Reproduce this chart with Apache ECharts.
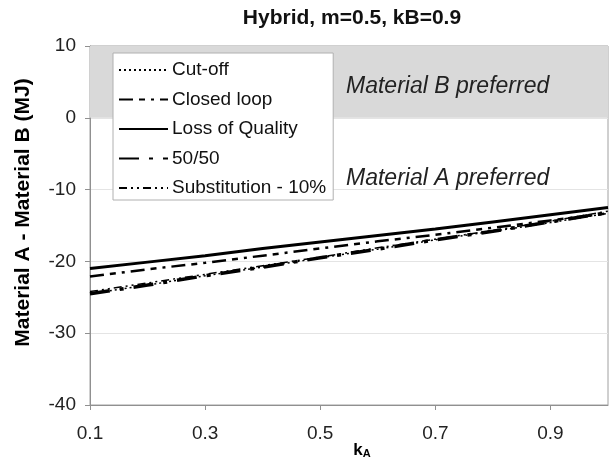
<!DOCTYPE html>
<html>
<head>
<meta charset="utf-8">
<script src="https://cdn.jsdelivr.net/npm/echarts@6/dist/echarts.min.js"></script>
<style>
  html, body { margin: 0; padding: 0; background: #fff; }
  #main { width: 610px; height: 458px; }
</style>
</head>
<body>
<div id="main"></div>
<script>
// kA values along the x axis
const kA = [0.1, 0.2, 0.3, 0.4, 0.5, 0.6, 0.7, 0.8, 0.9, 1.0];

// Material A - Material B (MJ)
const cutOff       = [-24.5, -23.3, -22.0, -20.8, -19.5, -18.3, -17.0, -15.8, -14.6, -13.3];
const closedLoop   = [-22.1, -21.1, -20.2, -19.2, -18.2, -17.2, -16.3, -15.3, -14.3, -13.3];
const lossOfQuality = [-21.0, -20.1, -19.2, -18.2, -17.3, -16.4, -15.5, -14.5, -13.5, -12.5];
const fiftyFifty   = [-24.5, -23.3, -22.0, -20.8, -19.5, -18.3, -17.0, -15.8, -14.5, -13.2];
const substitution = [-24.2, -23.0, -21.8, -20.6, -19.4, -18.1, -16.9, -15.7, -14.4, -13.0];

const yTicks = { min: -40, max: 10, interval: 10 };

const chart = echarts.init(document.getElementById('main'));

const pairs = arr => kA.map((x, i) => [x, arr[i]]);

const font = 'Liberation Sans, Arial, sans-serif';

const option = {
    backgroundColor: '#fff',
    animation: false,
    textStyle: { fontFamily: font },
    title: {
        text: 'Hybrid, m=0.5, kB=0.9',
        left: 352,
        textAlign: 'center',
        top: 8,
        padding: 0,
        textStyle: { fontSize: 21, fontWeight: 'bold', color: '#111', fontFamily: font }
    },
    grid: {
        left: 90, right: 2, top: 46, bottom: 53,
        outerBoundsMode: 'none',
        containLabel: false,
        show: true, borderColor: '#a0a0a0', borderWidth: 1, backgroundColor: 'transparent'
    },
    legend: {
        orient: 'vertical',
        left: 113, top: 53,
        padding: [7, 7, 2, 5],
        itemWidth: 49, itemHeight: 14, itemGap: 9.5,
        backgroundColor: '#fff',
        borderColor: '#b0b0b0', borderWidth: 1,
        itemStyle: { color: 'transparent', borderColor: 'transparent', borderWidth: 0 },
        textStyle: { fontSize: 19, lineHeight: 20, color: '#111', fontFamily: font, padding: [0, 0, 0, -1] },
        data: ['Cut-off', 'Closed loop', 'Loss of Quality', '50/50', 'Substitution - 10%']
    },
    xAxis: {
        type: 'value',
        min: 0.1, max: 1.0, interval: 0.2,
        name: 'k{sub|A}',
        nameLocation: 'middle',
        nameGap: 36,
        nameMoveOverlap: false,
        nameTextStyle: {
            fontSize: 17, fontWeight: 'bold', color: '#000', padding: [0, 0, 0, 26],
            rich: { sub: { fontSize: 11, fontWeight: 'bold', verticalAlign: 'bottom', padding: [7, 0, 0, 0] } }
        },
        axisLine: { onZero: false, lineStyle: { color: '#909090' } },
        axisTick: { show: true, length: 5, lineStyle: { color: '#909090' } },
        axisLabel: { fontSize: 19, color: '#222', margin: 19, showMaxLabel: false,
            formatter: v => v.toFixed(1) },
        splitLine: { show: false }
    },
    yAxis: {
        type: 'value',
        min: yTicks.min, max: yTicks.max, interval: yTicks.interval,
        name: 'Material A - Material B (MJ)',
        nameLocation: 'middle',
        nameGap: 56,
        nameMoveOverlap: false,
        nameTextStyle: { fontSize: 21, fontWeight: 'bold', color: '#000', padding: [0, 0, 0, 26] },
        axisLine: { show: true, onZero: false, lineStyle: { color: '#909090' } },
        axisTick: { show: true, length: 5, lineStyle: { color: '#909090' } },
        axisLabel: { fontSize: 19, color: '#222', margin: 14 },
        splitLine: { lineStyle: { color: '#e4e4e4' } }
    },
    series: [
        {
            name: 'Cut-off', type: 'line', data: pairs(cutOff),
            showSymbol: false, symbol: 'none', z: 3,
            itemStyle: { color: '#000' },
            lineStyle: { color: '#000', width: 1.5, type: [2, 3] },
            markArea: {
                silent: true,
                itemStyle: { color: '#d9d9d9' },
                data: [[{ yAxis: 0 }, { yAxis: 10 }]]
            }
        },
        {
            name: 'Closed loop', type: 'line', data: pairs(closedLoop),
            showSymbol: false, symbol: 'none',
            itemStyle: { color: '#000' },
            lineStyle: { color: '#000', width: 2.5, type: [14, 6, 6, 6, 3, 6] }
        },
        {
            name: 'Loss of Quality', type: 'line', data: pairs(lossOfQuality),
            showSymbol: false, symbol: 'none',
            itemStyle: { color: '#000' },
            lineStyle: { color: '#000', width: 3, type: 'solid' }
        },
        {
            name: '50/50', type: 'line', data: pairs(fiftyFifty),
            showSymbol: false, symbol: 'none',
            itemStyle: { color: '#000' },
            lineStyle: { color: '#000', width: 3.5, type: [20, 10, 4, 10] }
        },
        {
            name: 'Substitution - 10%', type: 'line', data: pairs(substitution),
            showSymbol: false, symbol: 'none',
            itemStyle: { color: '#000' },
            lineStyle: { color: '#000', width: 1.5, type: [8, 4, 2, 4, 2, 4] }
        }
    ],
    graphic: [
        {
            type: 'text', left: 346, top: 75, z: 100,
            style: { text: 'Material B preferred', fontSize: 23, fontStyle: 'italic', fill: '#222', fontFamily: font }
        },
        {
            type: 'text', left: 346, top: 167, z: 100,
            style: { text: 'Material A preferred', fontSize: 23, fontStyle: 'italic', fill: '#222', fontFamily: font }
        }
    ]
};

chart.setOption(option);
</script>
</body>
</html>
